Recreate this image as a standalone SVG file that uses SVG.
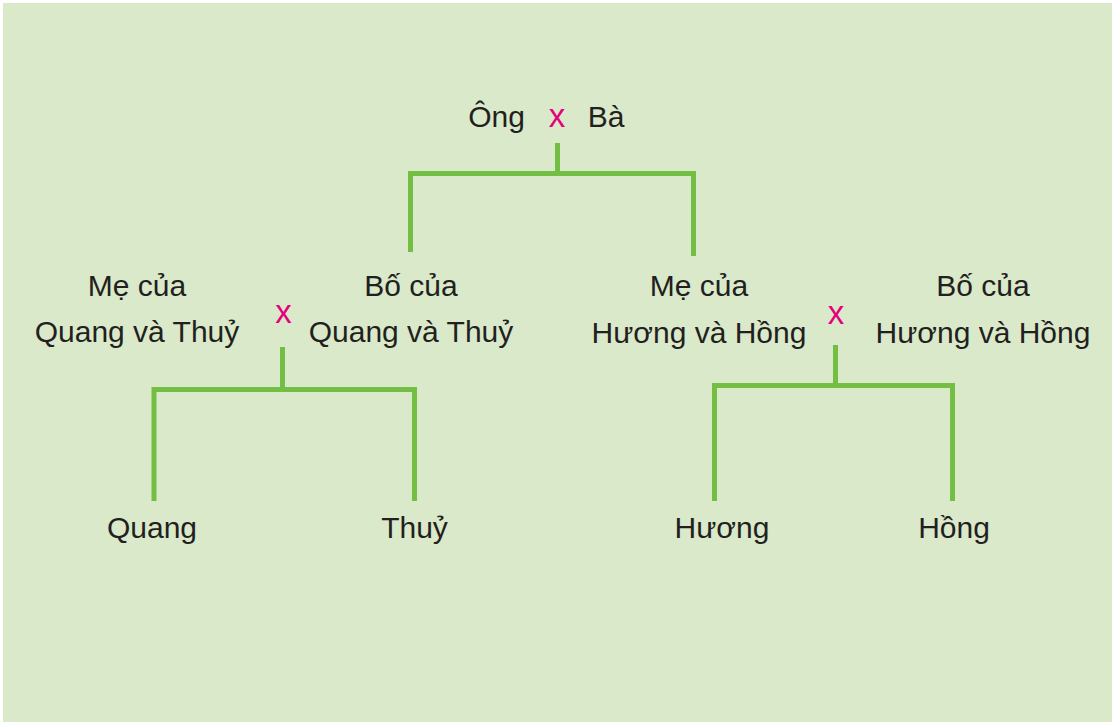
<svg xmlns="http://www.w3.org/2000/svg" width="1118" height="722" viewBox="0 0 1118 722">
<style>
.t{font-family:"Liberation Sans",Arial,sans-serif;font-size:30px;fill:#231f20;text-anchor:middle}
.x{font-family:"Liberation Sans",Arial,sans-serif;font-size:33px;fill:#e5007d;text-anchor:middle}
.c{fill:none;stroke:#72bf44;stroke-width:5;stroke-linecap:butt;stroke-linejoin:miter}
</style>
<rect x="0" y="0" width="1118" height="722" fill="#ffffff"/>
<rect x="3" y="3" width="1109" height="719" fill="#d9e9c9"/>
<g id="connectors">
<path class="c" d="M557.5 143V173M410.5 252V173.5H693.5V256"/>
<path class="c" d="M282.5 347V389M154 501V389.5H414.5V501"/>
<path class="c" d="M835.5 345V385M714.5 501V385.5H952.5V501"/>
</g>
<g id="ong"><text class="t" x="496.5" y="127">Ông</text></g>
<g id="x-top"><text class="x" x="557" y="127">x</text></g>
<g id="ba"><text class="t" x="606" y="127">Bà</text></g>
<g id="me-qt"><text class="t" x="137" y="296">Mẹ của</text><text class="t" x="137" y="342">Quang và Thuỷ</text></g>
<g id="x-left"><text class="x" x="283.5" y="323">x</text></g>
<g id="bo-qt"><text class="t" x="411" y="296">Bố của</text><text class="t" x="411" y="342">Quang và Thuỷ</text></g>
<g id="me-hh"><text class="t" x="699" y="296">Mẹ của</text><text class="t" x="699" y="343">Hương và Hồng</text></g>
<g id="x-right"><text class="x" x="836" y="324">x</text></g>
<g id="bo-hh"><text class="t" x="983" y="296">Bố của</text><text class="t" x="983" y="343">Hương và Hồng</text></g>
<g id="quang"><text class="t" x="152" y="538">Quang</text></g>
<g id="thuy"><text class="t" x="414.5" y="538">Thuỷ</text></g>
<g id="huong"><text class="t" x="722" y="538">Hương</text></g>
<g id="hong"><text class="t" x="954" y="538">Hồng</text></g>
</svg>
